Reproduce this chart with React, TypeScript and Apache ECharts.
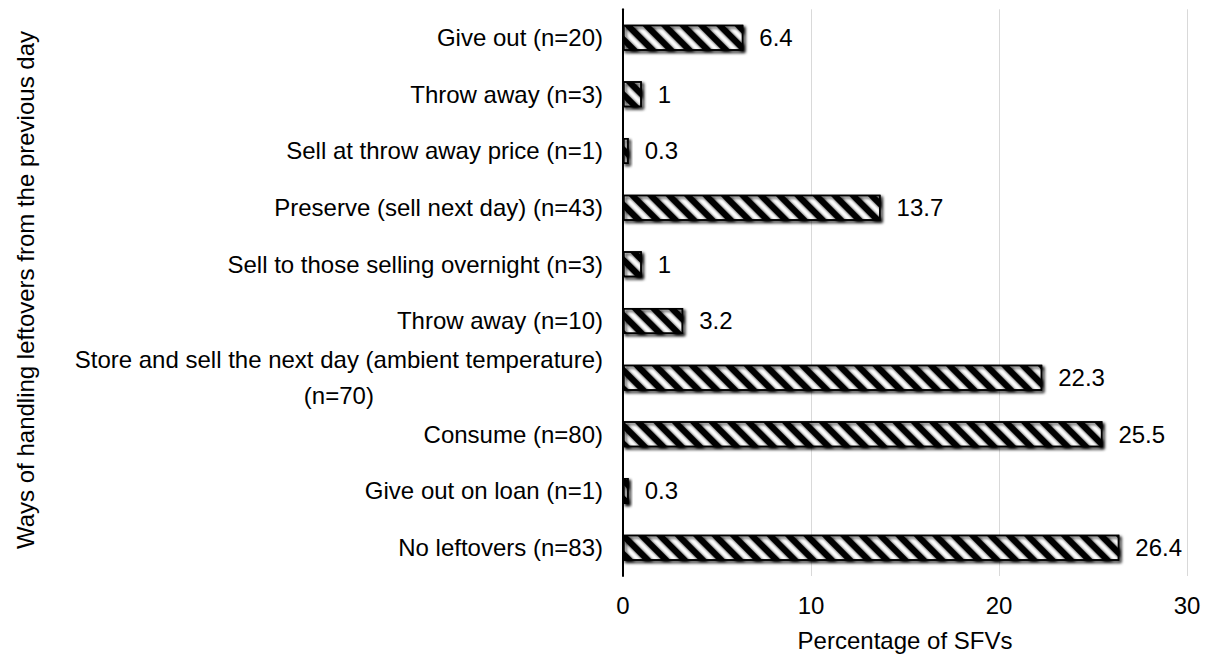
import React, { useEffect, useRef } from "react";
import * as echarts from "echarts";

const categories = [
  "Give out (n=20)",
  "Throw away (n=3)",
  "Sell at throw away price (n=1)",
  "Preserve (sell next day) (n=43)",
  "Sell to those selling overnight (n=3)",
  "Throw away (n=10)",
  "Store and sell the next day (ambient temperature)\n(n=70)",
  "Consume (n=80)",
  "Give out on loan (n=1)",
  "No leftovers (n=83)",
];
const values = [6.4, 1, 0.3, 13.7, 1, 3.2, 22.3, 25.5, 0.3, 26.4];
const xTicks = [0, 10, 20, 30];
const xTitle = "Percentage of SFVs";
const yTitle = "Ways of handling leftovers from the previous day";

export default function App() {
  const ref = useRef<HTMLDivElement>(null);
  useEffect(() => {
    if (!ref.current) return;
    const chart = echarts.init(ref.current, null, { renderer: "svg" });
    const font = "'Liberation Sans', Arial, sans-serif";
    const fs = 24;
    chart.setOption({
      animation: false,
      textStyle: { fontFamily: font },
      grid: { left: 623, right: 23, top: 9.3, bottom: 74.3, containLabel: false },
      xAxis: {
        type: "value",
        min: xTicks[0],
        max: xTicks[xTicks.length - 1],
        interval: 10,
        axisLine: { show: false },
        axisTick: { show: false },
        axisLabel: { fontSize: fs, color: "#000", margin: 17, fontFamily: font },
        splitLine: { show: true, lineStyle: { color: "#d9d9d9", width: 1 } },
        name: xTitle,
        nameLocation: "middle",
        nameGap: 52,
        nameTextStyle: { fontSize: fs, color: "#000", fontFamily: font },
      },
      yAxis: {
        type: "category",
        data: categories,
        inverse: true,
        axisLine: { show: true, lineStyle: { color: "#000", width: 2 } },
        axisTick: { show: false },
        axisLabel: {
          fontSize: fs,
          color: "#000",
          margin: 20,
          fontFamily: font,
          lineHeight: 36,
          formatter: (v: string) =>
            v
              .split("\n")
              .map((s) => "{c|" + s + "}")
              .join("\n"),
          rich: {
            c: { align: "center", fontSize: fs, color: "#000", fontFamily: font, lineHeight: 36 },
          },
        },
      },
      graphic: [
        {
          type: "text",
          x: 25,
          y: 290,
          rotation: Math.PI / 2,
          style: {
            text: yTitle,
            fontSize: fs,
            fill: "#000",
            fontFamily: font,
            align: "center",
            verticalAlign: "middle",
          },
        },
      ],
      series: [
        {
          type: "bar",
          data: values,
          barWidth: 26,
          itemStyle: {
            color: "#fff",
            borderColor: "#000",
            borderWidth: 1.5,
            shadowColor: "rgba(0,0,0,0.35)",
            shadowBlur: 3,
            shadowOffsetX: 2,
            shadowOffsetY: 2,
            decal: {
              symbol: "rect",
              symbolSize: 1,
              color: "#000",
              backgroundColor: "#fff",
              dashArrayX: [1, 0],
              dashArrayY: [6, 7],
              rotation: Math.PI / 4,
            },
          },
          label: {
            show: true,
            position: "right",
            distance: 16,
            fontSize: fs,
            color: "#000",
            fontFamily: font,
          },
        },
      ],
    });
    return () => chart.dispose();
  }, []);
  return (
    <div
      ref={ref}
      style={{ position: "fixed", left: 0, top: 0, width: 1210, height: 657, background: "#fff" }}
    />
  );
}
